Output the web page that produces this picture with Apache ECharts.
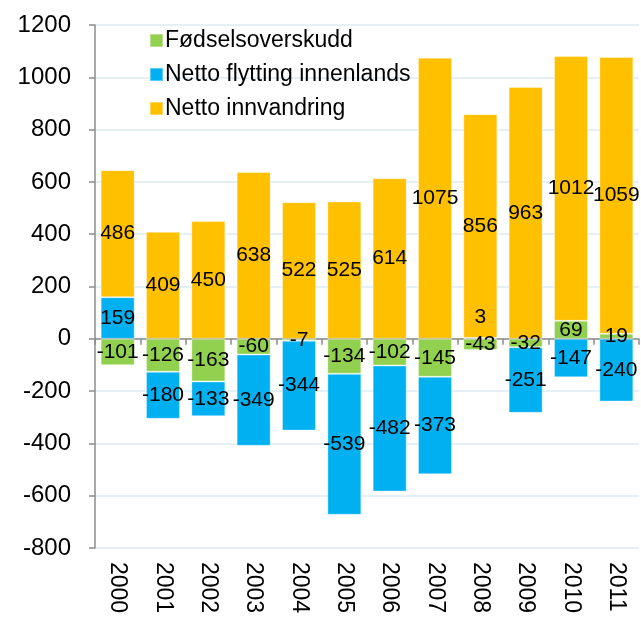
<!DOCTYPE html>
<html>
<head>
<meta charset="utf-8">
<script src="https://cdn.jsdelivr.net/npm/echarts@6/dist/echarts.min.js"></script>
<style>html,body{margin:0;padding:0;background:#fff}#c{width:641px;height:621px}</style>
</head>
<body>
<div id="c"></div>
<script>
const years = ['2000','2001','2002','2003','2004','2005','2006','2007','2008','2009','2010','2011'];
const fodselsoverskudd = [-101,-126,-163,-60,-7,-134,-102,-145,-43,-32,69,19];
const flyttingInnenlands = [159,-180,-133,-349,-344,-539,-482,-373,3,-251,-147,-240];
const nettoInnvandring = [486,409,450,638,522,525,614,1075,856,963,1012,1059];
const yTicks = [-800,-600,-400,-200,0,200,400,600,800,1000,1200];

const chart = echarts.init(document.getElementById('c'));
const font = 'Liberation Sans, Arial, sans-serif';
const labelCfg = {show:true, position:'inside', color:'#000', fontSize:21, fontFamily:font};

function mk(name, data, color) {
  return {
    name, type:'bar', stack:'total', data: data.map((v) => {
      // tiny segments: lift the label above the bar like the reference
      if (Math.abs(v) < 5 && v > 0) return {value:v, label:{offset:[0,-21]}};
      return v;
    }),
    barWidth:34, itemStyle:{color, borderColor:'rgba(255,255,255,0.35)', borderWidth:1},
    label: labelCfg
  };
}

chart.setOption({
  animation:false,
  textStyle:{fontFamily:font},
  grid:{left:95, right:2, top:25, bottom:73},
  legend:{
    orient:'vertical', left:144, top:24, itemWidth:13, itemHeight:13, itemGap:11,
    icon:'rect', textStyle:{fontSize:23, color:'#000', fontFamily:font, padding:[0,0,0,-3]},
    data:['Fødselsoverskudd','Netto flytting innenlands','Netto innvandring']
  },
  xAxis:[
    {type:'category', data:years, position:'bottom',
     axisLine:{show:false, onZero:false}, axisTick:{show:false},
     axisLabel:{rotate:-90, fontSize:23, color:'#000', margin:14, fontFamily:font}},
    {type:'category', data:years, position:'bottom',
     axisLine:{show:true, onZero:true, lineStyle:{color:'#8c8c8c', width:1.5}},
     axisTick:{show:true, length:6, lineStyle:{color:'#8c8c8c', width:1.5}},
     axisLabel:{show:false}, splitLine:{show:false}}
  ],
  yAxis:{
    type:'value', min:yTicks[0], max:yTicks[yTicks.length-1], interval:200,
    axisLine:{show:true, lineStyle:{color:'#8c8c8c', width:1.5}},
    axisTick:{show:true, length:6, lineStyle:{color:'#8c8c8c', width:1.5}},
    axisLabel:{fontSize:24, color:'#000', margin:24, fontFamily:font, formatter:(v) => String(v)},
    splitLine:{show:true, lineStyle:{color:'#dceaf3', width:1.5}}
  },
  series:[
    mk('Fødselsoverskudd', fodselsoverskudd, '#92D050'),
    mk('Netto flytting innenlands', flyttingInnenlands, '#00B0F0'),
    mk('Netto innvandring', nettoInnvandring, '#FFC000')
  ]
});
</script>
</body>
</html>
